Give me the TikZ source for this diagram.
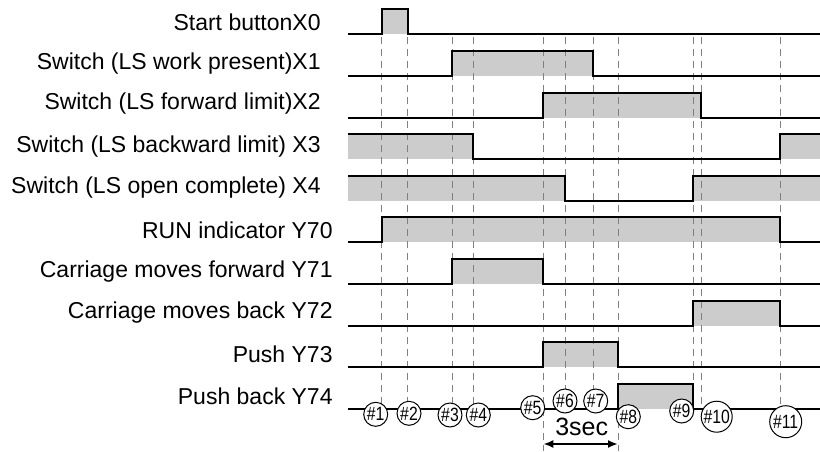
\documentclass[tikz,border=0pt]{standalone}
\usepackage{fontspec}
\setmainfont{Liberation Sans}
\newfontfamily\narrowfont[FakeStretch=0.82]{Liberation Sans}
\usetikzlibrary{arrows.meta}

\tikzset{
  wave/.style={line width=1pt, line join=miter},
  hatch/.style={fill=black!20},
  tick/.style={black!50, line width=0.5pt, dash pattern=on 3.5pt off 2.5pt},
  sig/.style={anchor=east, inner sep=0pt, font=\fontsize{11.5}{13}\selectfont},
  stepnum/.style={circle, draw, fill=white, line width=0.5pt, inner sep=0pt,
    minimum size=12pt, font=\narrowfont\fontsize{9.6}{10}\selectfont},
}

\begin{document}
\begin{tikzpicture}[x=0.5pt, y=-0.5pt, >={Latex[length=5pt,width=4pt]}]
  \useasboundingbox (0,0) rectangle (820,451);

  % signal names
  \node[sig] (lX0) at (321,22) {Start buttonX0};
  \node[sig] (lX1) at (321,63.5) {Switch (LS work present)X1};
  \node[sig] (lX2) at (321,104) {Switch (LS forward limit)X2};
  \node[sig] (lX3) at (321,146.5) {Switch (LS backward limit) X3};
  \node[sig] (lX4) at (321,188) {Switch (LS open complete) X4};
  \node[sig] (lY70) at (333,230) {RUN indicator Y70};
  \node[sig] (lY71) at (333,271.5) {Carriage moves forward Y71};
  \node[sig] (lY72) at (333,313) {Carriage moves back Y72};
  \node[sig] (lY73) at (333,354.5) {Push Y73};
  \node[sig] (lY74) at (333,396.5) {Push back Y74};

  % shaded ON states
  \fill[hatch] (381.7,9) rectangle (407.7,34);
  \fill[hatch] (452,51) rectangle (593.3,76);
  \fill[hatch] (543.3,92.5) rectangle (701.3,117.5);
  \fill[hatch] (348.3,134.3) rectangle (473.3,159.3);
  \fill[hatch] (780,134.3) rectangle (820,159.3);
  \fill[hatch] (348.3,175.7) rectangle (565,200.7);
  \fill[hatch] (693.3,175.7) rectangle (820,200.7);
  \fill[hatch] (381.7,217.3) rectangle (780,242.3);
  \fill[hatch] (452,259) rectangle (543.3,284);
  \fill[hatch] (693.3,300.5) rectangle (780,325.5);
  \fill[hatch] (543.3,342) rectangle (618,367);
  \fill[hatch] (618,384) rectangle (693.3,409);

  % time marks
  \foreach \t in {381.7,407.7,452,473.3,565,593.3,693.3,701.3,780}
    \draw[tick] (\t,37) -- (\t,409);
  \foreach \t in {543.3,618}
    \draw[tick] (\t,37) -- (\t,451);

  % waveforms
  \draw[wave] (348.3,34) -| (381.7,9) -| (407.7,34) -- (820,34);
  \draw[wave] (348.3,76) -| (452,51) -| (593.3,76) -- (820,76);
  \draw[wave] (348.3,117.5) -| (543.3,92.5) -| (701.3,117.5) -- (820,117.5);
  \draw[wave] (348.3,134.3) -| (473.3,159.3) -| (780,134.3) -- (820,134.3);
  \draw[wave] (348.3,175.7) -| (565,200.7) -| (693.3,175.7) -- (820,175.7);
  \draw[wave] (348.3,242.3) -| (381.7,217.3) -| (780,242.3) -- (820,242.3);
  \draw[wave] (348.3,284) -| (452,259) -| (543.3,284) -- (820,284);
  \draw[wave] (348.3,325.5) -| (693.3,300.5) -| (780,325.5) -- (820,325.5);
  \draw[wave] (348.3,367) -| (543.3,342) -| (618,367) -- (820,367);
  \draw[wave] (348.3,409) -| (618,384) -| (693.3,409) -- (820,409);

  % step numbers
  \node[stepnum] (n1) at (375.7,414.3) {\#1};
  \node[stepnum] (n2) at (409,413.3) {\#2};
  \node[stepnum] (n3) at (450,415) {\#3};
  \node[stepnum] (n4) at (478.3,415) {\#4};
  \node[stepnum] (n5) at (532.7,407.7) {\#5};
  \node[stepnum] (n6) at (565,401) {\#6};
  \node[stepnum] (n7) at (595.7,401) {\#7};
  \node[stepnum] (n8) at (628.3,416.7) {\#8};
  \node[stepnum] (n9) at (681.7,411) {\#9};
  \node[stepnum, minimum size=15.5pt] (n10) at (716.7,416.7) {\#10};
  \node[stepnum, minimum size=16pt] (n11) at (785.7,421.7) {\#11};

  % 3 second timer
  \coordinate (d5) at (543.3,444);
  \coordinate (d8) at (618,444);
  \draw[<->, line width=1pt] (d5) -- (d8);
  \node[font=\fontsize{12.5}{14}\selectfont] (dur) at (581.7,427) {3sec};
\end{tikzpicture}
\end{document}
